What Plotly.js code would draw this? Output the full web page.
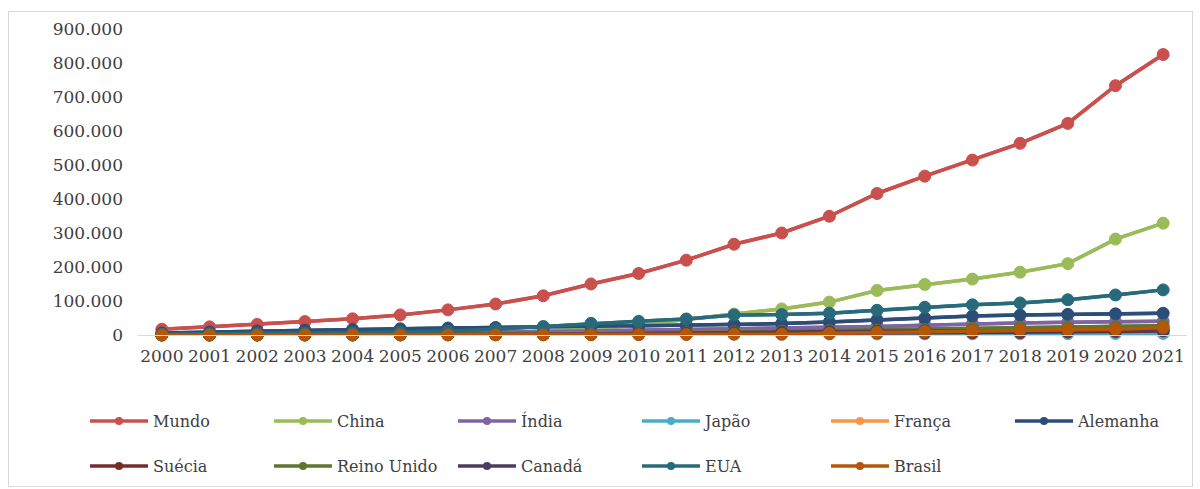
<!DOCTYPE html>
<html>
<head>
<meta charset="utf-8">
<script src="https://cdn.plot.ly/plotly-3.0.1.min.js"></script>
<style>
  html, body { margin: 0; padding: 0; background: #ffffff; }
  #wrap { position: relative; width: 1200px; height: 489px; }
  #chart { width: 1200px; height: 489px; }
  #frame { position: absolute; left: 8px; top: 11px; width: 1183px; height: 474px;
           border: 1px solid #d9d9d9; pointer-events: none; }
</style>
</head>
<body>
<div id="wrap">
  <div id="chart"></div>
  <div id="frame"></div>
</div>
<script>
// Installed wind capacity (MW), 2000-2021
const years = ['2000','2001','2002','2003','2004','2005','2006','2007','2008','2009','2010',
               '2011','2012','2013','2014','2015','2016','2017','2018','2019','2020','2021'];

const mundo     = [16900, 23900, 31100, 39400, 47600, 59000, 73900, 91100, 115300, 150100, 181000,
                   220000, 267000, 300000, 349300, 416200, 467200, 514400, 563700, 622400, 733300, 824900];
const china     = [340, 400, 470, 570, 760, 1270, 2600, 5870, 12000, 17600, 29600,
                   46400, 61600, 76700, 96800, 131000, 148500, 164400, 184700, 209900, 282000, 328900];
const india     = [1200, 1500, 1700, 2100, 3000, 4400, 6300, 7800, 9600, 10900, 13200,
                   16100, 18400, 20200, 22500, 25100, 28700, 32800, 35100, 37500, 38600, 40100];
const japao     = [140, 300, 400, 600, 900, 1050, 1300, 1540, 1880, 2050, 2290,
                   2420, 2610, 2660, 2790, 3040, 3230, 3400, 3670, 3930, 4260, 4580];
const franca    = [40, 80, 150, 240, 360, 760, 1500, 2400, 3500, 4600, 5900,
                   6800, 7500, 8200, 9300, 10300, 11600, 13500, 15100, 16600, 17600, 18700];
const alemanha  = [6100, 8800, 12000, 14400, 16400, 18200, 20500, 22100, 22800, 25700, 26900,
                   28700, 31000, 33500, 38600, 44600, 49400, 55600, 58800, 60700, 62200, 63900];
const suecia    = [230, 290, 350, 400, 440, 500, 570, 830, 1070, 1450, 2160,
                   2900, 3700, 4200, 5400, 6000, 6400, 6600, 7400, 8800, 10000, 12100];
const reinoUnido= [400, 500, 500, 700, 900, 1600, 2000, 2400, 3000, 4400, 5400,
                   6500, 9000, 11300, 13000, 14300, 16100, 19600, 21700, 23500, 24100, 27100];
const canada    = [140, 200, 240, 300, 440, 680, 1460, 1850, 2370, 3320, 3970,
                   5270, 6200, 7800, 9700, 11200, 11900, 12400, 12800, 13400, 13600, 14300];
const eua       = [2400, 4200, 4700, 6300, 6700, 9100, 11600, 16800, 25000, 34300, 40200,
                   46900, 59100, 60000, 64200, 72600, 81300, 88700, 94300, 103600, 117700, 132700];
const brasil    = [20, 20, 20, 30, 30, 30, 240, 250, 340, 600, 930,
                   1500, 2500, 2200, 5000, 7600, 10100, 12300, 14800, 15400, 17200, 21200];

const yTicks = [0, 100000, 200000, 300000, 400000, 500000, 600000, 700000, 800000, 900000];

// legend groups: two rows, each split in two blocks so the entries keep a fixed pitch
const seriesList = [
  { name: 'Mundo',       y: mundo,      color: '#C9504D', legend: 'legend'  },
  { name: 'China',       y: china,      color: '#9BBB59', legend: 'legend'  },
  { name: 'Índia',       y: india,      color: '#8064A2', legend: 'legend'  },
  { name: 'Japão',       y: japao,      color: '#4BACC6', legend: 'legend'  },
  { name: 'França',      y: franca,     color: '#F79646', legend: 'legend3' },
  { name: 'Alemanha',    y: alemanha,   color: '#2C4D75', legend: 'legend3' },
  { name: 'Suécia',      y: suecia,     color: '#772C2A', legend: 'legend2' },
  { name: 'Reino Unido', y: reinoUnido, color: '#5F7530', legend: 'legend2' },
  { name: 'Canadá',      y: canada,     color: '#4D3B62', legend: 'legend2' },
  { name: 'EUA',         y: eua,        color: '#276A7C', legend: 'legend2' },
  { name: 'Brasil',      y: brasil,     color: '#B65708', legend: 'legend4' }
];

// key entries: same series with a smaller marker, laid underneath the plotted lines
const keyTraces = seriesList.map(s => ({
  type: 'scatter',
  mode: 'lines+markers',
  name: s.name,
  x: years,
  y: s.y,
  legend: s.legend,
  cliponaxis: false,
  line: { color: s.color, width: 3.5 },
  marker: { color: s.color, size: 8 },
  hoverinfo: 'skip'
}));

const traces = seriesList.map(s => ({
  type: 'scatter',
  mode: 'lines+markers',
  name: s.name,
  x: years,
  y: s.y,
  showlegend: false,
  cliponaxis: false,
  line: { color: s.color, width: 3.5 },
  marker: { color: s.color, size: 12, line: { color: s.color, width: 1 } },
  hovertemplate: '%{x}: %{y:,}<extra>' + s.name + '</extra>'
}));

const fontFamily = 'DejaVu Serif';
const textColor = '#404040';

const legendCommon = {
  orientation: 'h',
  xref: 'container', yref: 'container',
  xanchor: 'left', yanchor: 'middle',
  entrywidth: 111, entrywidthmode: 'pixels',
  itemwidth: 58,
  bgcolor: 'rgba(0,0,0,0)',
  font: { family: fontFamily, size: 16, color: textColor },
  itemclick: false, itemdoubleclick: false
};

const row1 = 1 - 421 / 489;
const row2 = 1 - 466 / 489;
const colA = 85 / 1200;
const colB = 826 / 1200;

const layout = {
  width: 1200,
  height: 489,
  paper_bgcolor: '#ffffff',
  plot_bgcolor: '#ffffff',
  separators: ',.',
  margin: { l: 138, r: 13, t: 29, b: 154 },
  font: { family: fontFamily, size: 17, color: textColor },
  showlegend: true,
  xaxis: {
    type: 'category',
    range: [-0.5, 21.5],
    showgrid: false,
    zeroline: false,
    showline: true,
    linecolor: '#d9d9d9',
    linewidth: 1,
    ticks: '',
    tickangle: 0,
    ticklabelstandoff: 6,
    tickfont: { family: fontFamily, size: 17, color: textColor }
  },
  yaxis: {
    range: [0, 900000],
    tickvals: yTicks,
    tickformat: ',d',
    showgrid: false,
    zeroline: false,
    showline: false,
    ticks: '',
    ticklabelstandoff: 14,
    tickfont: { family: fontFamily, size: 17, color: textColor }
  },
  legend:  Object.assign({}, legendCommon, { x: colA, y: row1 }),
  legend3: Object.assign({}, legendCommon, { x: colB, y: row1 }),
  legend2: Object.assign({}, legendCommon, { x: colA, y: row2 }),
  legend4: Object.assign({}, legendCommon, { x: colB, y: row2 })
};

Plotly.newPlot('chart', keyTraces.concat(traces), layout, { displayModeBar: false, staticPlot: true });
</script>
</body>
</html>
